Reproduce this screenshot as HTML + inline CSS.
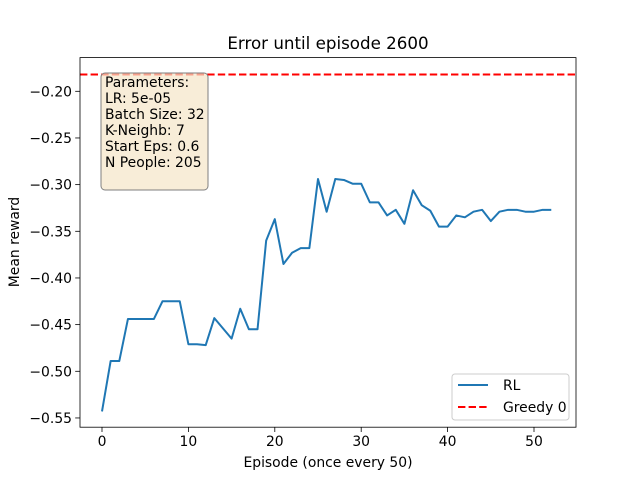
<!DOCTYPE html>
<html><head><meta charset="utf-8"><style>
body{margin:0;background:#fff;font-family:"Liberation Sans","DejaVu Sans",sans-serif}
svg text{font-family:"DejaVu Sans","Liberation Sans",sans-serif}
</style></head><body>
<svg id="chart" width="640" height="480" xmlns="http://www.w3.org/2000/svg">
<rect width="640" height="480" fill="#fff"/>
<text x="328" y="49" font-size="16.7" text-anchor="middle">Error until episode 2600</text>
<g id="plot"></g>
<rect x="80" y="57.6" width="496" height="369.6" fill="none" stroke="#000" stroke-width="0.8"/>
<text x="328" y="467" font-size="13.9" text-anchor="middle">Episode (once every 50)</text>
<text transform="translate(19,242) rotate(-90)" font-size="13.9" text-anchor="middle">Mean reward</text>
<g>
<rect x="101" y="73" width="107" height="117" rx="4" fill="#f5e6c8" fill-opacity="0.7" stroke="#7f7f7f" stroke-width="1"/>
<text x="105" y="87" font-size="13.9">Parameters:</text>
<text x="105" y="103" font-size="13.9">LR: 5e-05</text>
<text x="105" y="119" font-size="13.9">Batch Size: 32</text>
<text x="105" y="135" font-size="13.9">K-Neighb: 7</text>
<text x="105" y="151" font-size="13.9">Start Eps: 0.6</text>
<text x="105" y="167" font-size="13.9">N People: 205</text>
</g>
<g>
<rect x="452" y="374" width="117" height="46" rx="3" fill="#fff" fill-opacity="0.8" stroke="#ccc"/>
<line x1="458" y1="385" x2="488" y2="385" stroke="#1f77b4" stroke-width="2"/>
<text x="503" y="390" font-size="13.9">RL</text>
<line x1="458" y1="407" x2="488" y2="407" stroke="#f00" stroke-width="2" stroke-dasharray="7.4,3.2"/>
<text x="503" y="412" font-size="13.9">Greedy 0</text>
</g>
</svg>
<script>
const rlValues=[-0.543,-0.489,-0.489,-0.444,-0.444,-0.444,-0.444,-0.425,-0.425,-0.425,-0.471,-0.471,-0.472,-0.443,-0.454,-0.465,-0.433,-0.455,-0.455,-0.36,-0.337,-0.385,-0.373,-0.368,-0.368,-0.294,-0.329,-0.294,-0.295,-0.299,-0.299,-0.319,-0.319,-0.333,-0.327,-0.342,-0.306,-0.322,-0.328,-0.345,-0.345,-0.333,-0.335,-0.329,-0.327,-0.339,-0.329,-0.327,-0.327,-0.329,-0.329,-0.327,-0.327];
const greedyValue=-0.182;
const xTicks=[0,10,20,30,40,50];
const yTicks=[-0.55,-0.50,-0.45,-0.40,-0.35,-0.30,-0.25,-0.20];
const NS="http://www.w3.org/2000/svg";
const X=v=>102+v*8.64;
const Y=v=>91.3+(-0.20-v)*933.3;
const g=document.getElementById('plot');
function mk(t,a){const e=document.createElementNS(NS,t);for(const k in a)e.setAttribute(k,a[k]);g.appendChild(e);return e;}
xTicks.forEach(t=>{
 const l=mk('line',{x1:X(t),x2:X(t),y1:427.2,y2:432,stroke:'#000','stroke-width':0.8});
 
 
 const s=mk('text',{x:X(t),y:446,'font-size':13.9,'text-anchor':'middle'});s.textContent=t;
 
 
});
yTicks.forEach(t=>{
 const l=mk('line',{x1:75.2,x2:80,y1:Y(t),y2:Y(t),stroke:'#000','stroke-width':0.8});
 
 
 const s=mk('text',{x:72,y:Y(t)+5,'font-size':13.9,'text-anchor':'end'});s.textContent='\u2212'+Math.abs(t).toFixed(2);
 
 
});
const p=mk('polyline',{points:rlValues.map((v,i)=>X(i)+','+Y(v)).join(' '),fill:'none',stroke:'#1f77b4','stroke-width':2,'stroke-linejoin':'round'});


const gl=mk('line',{x1:80,x2:576,y1:Y(greedyValue),y2:Y(greedyValue),stroke:'#f00','stroke-width':2,'stroke-dasharray':'7.4,3.2'});


</script>
</body></html>
